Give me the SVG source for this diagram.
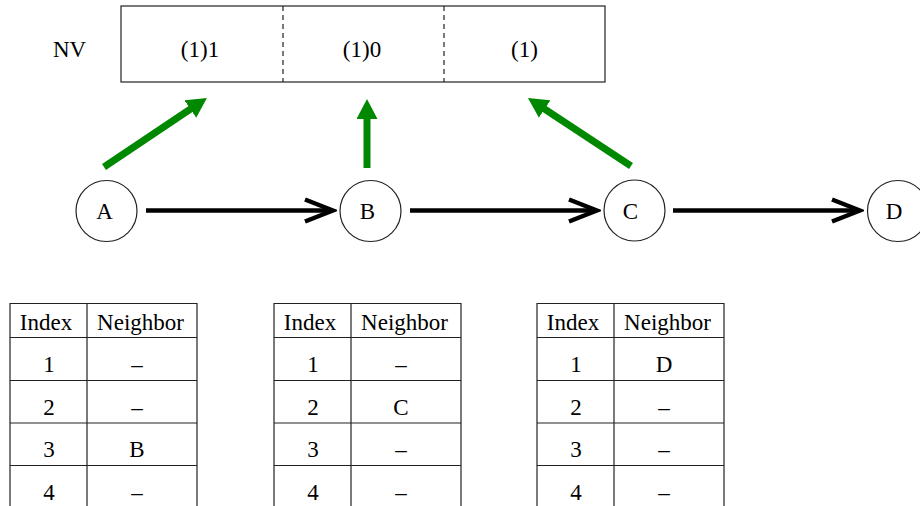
<svg xmlns="http://www.w3.org/2000/svg" width="920" height="506" viewBox="0 0 920 506">
  <style>
    text { font-family: "Liberation Serif", "DejaVu Serif", "Times New Roman", serif; font-size: 23px; fill: #000; text-anchor: middle; }
    .box { fill: #fff; stroke: #222; stroke-width: 1.2; }
    .dash { stroke: #222; stroke-width: 1.2; stroke-dasharray: 5 4; }
    .node { fill: #fff; stroke: #222; stroke-width: 1.2; }
    .grid { stroke: #222; stroke-width: 1.2; fill: none; }
    .link { stroke: #000; stroke-width: 4.5; fill: none; marker-end: url(#open); }
    .push { stroke: #008800; stroke-width: 7; fill: none; marker-end: url(#solid); }
  </style>
  <defs>
    <marker id="open" markerUnits="userSpaceOnUse" viewBox="-4 -4 36 30" markerWidth="36" markerHeight="30" refX="26" refY="11" orient="auto">
      <path d="M0,0 L28,11 L0,22" fill="none" stroke="#000" stroke-width="4.5"/>
    </marker>
    <marker id="solid" markerUnits="userSpaceOnUse" viewBox="0 0 20 21" markerWidth="20" markerHeight="21" refX="2" refY="10.5" orient="auto">
      <path d="M0,0 L20,10.5 L0,21 z" fill="#008800"/>
    </marker>
  </defs>

  <!-- NV vector -->
  <g id="nv">
    <text x="69.5" y="57">NV</text>
    <rect class="box" x="121" y="6" width="484" height="76"/>
    <line class="dash" x1="283" y1="6" x2="283" y2="82"/>
    <line class="dash" x1="444" y1="6" x2="444" y2="82"/>
    <text x="200" y="57">(1)1</text>
    <text x="362" y="57">(1)0</text>
    <text x="524.5" y="57">(1)</text>
  </g>

  <!-- nodes -->
  <g id="node-a">
    <circle class="node" cx="106.5" cy="211" r="30.5"/>
    <text x="104.5" y="218.5">A</text>
  </g>
  <g id="node-b">
    <circle class="node" cx="370.5" cy="211" r="30.5"/>
    <text x="367.5" y="218.5">B</text>
  </g>
  <g id="node-c">
    <circle class="node" cx="634.5" cy="210.5" r="30.5"/>
    <text x="630.5" y="218.5">C</text>
  </g>
  <g id="node-d">
    <circle class="node" cx="898" cy="211" r="30.5"/>
    <text x="894" y="218.5">D</text>
  </g>

  <!-- connectors -->
  <g id="connectors">
    <line class="link" x1="146" y1="210.5" x2="331" y2="210.5"/>
    <line class="link" x1="410" y1="210.5" x2="595" y2="210.5"/>
    <line class="link" x1="673" y1="210.5" x2="858" y2="210.5"/>
    <line class="push" x1="104" y1="167" x2="192" y2="108"/>
    <line class="push" x1="367" y1="168" x2="367" y2="117"/>
    <line class="push" x1="631" y1="166" x2="543" y2="108"/>
  </g>

  <!-- neighbor table of A -->
  <g id="table-a">
    <path class="grid" d="M10,506 V303.5 H197 V506 M87,303.5 V506 M10,337.5 H197 M10,380.5 H197 M10,423 H197 M10,465.5 H197"/>
    <text x="46" y="329.5">Index</text><text x="140.5" y="329.5">Neighbor</text>
    <text x="49" y="372">1</text><text x="137" y="372">–</text>
    <text x="49" y="414.5">2</text><text x="137" y="414.5">–</text>
    <text x="49" y="457">3</text><text x="137" y="457">B</text>
    <text x="49" y="499.5">4</text><text x="137" y="499.5">–</text>
  </g>

  <!-- neighbor table of B -->
  <g id="table-b">
    <path class="grid" d="M274,506 V303.5 H461 V506 M351,303.5 V506 M274,337.5 H461 M274,380.5 H461 M274,423 H461 M274,465.5 H461"/>
    <text x="310" y="329.5">Index</text><text x="404.5" y="329.5">Neighbor</text>
    <text x="313" y="372">1</text><text x="401" y="372">–</text>
    <text x="313" y="414.5">2</text><text x="401" y="414.5">C</text>
    <text x="313" y="457">3</text><text x="401" y="457">–</text>
    <text x="313" y="499.5">4</text><text x="401" y="499.5">–</text>
  </g>

  <!-- neighbor table of C -->
  <g id="table-c">
    <path class="grid" d="M537,506 V303.5 H724 V506 M614,303.5 V506 M537,337.5 H724 M537,380.5 H724 M537,423 H724 M537,465.5 H724"/>
    <text x="573" y="329.5">Index</text><text x="667.5" y="329.5">Neighbor</text>
    <text x="576" y="372">1</text><text x="664" y="372">D</text>
    <text x="576" y="414.5">2</text><text x="664" y="414.5">–</text>
    <text x="576" y="457">3</text><text x="664" y="457">–</text>
    <text x="576" y="499.5">4</text><text x="664" y="499.5">–</text>
  </g>
</svg>
